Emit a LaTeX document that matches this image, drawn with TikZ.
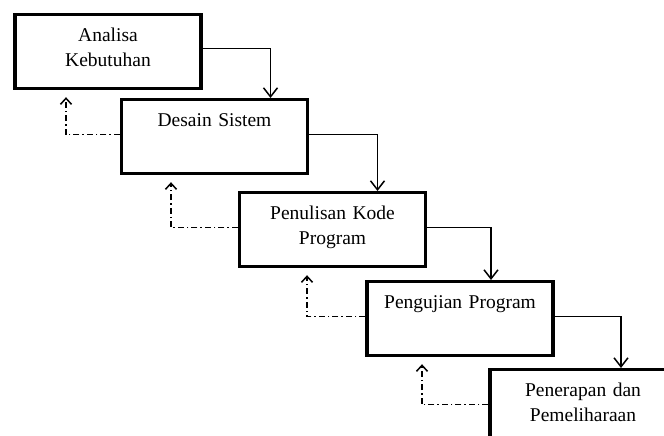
\documentclass[tikz,border=0pt]{standalone}
\usepackage{fontspec}
\setmainfont{Liberation Serif}
\usetikzlibrary{arrows.meta}

\begin{document}
\begin{tikzpicture}[x=1pt,y=-1pt,
    tahap/.style={draw, line width=3.2pt, anchor=north, inner xsep=0pt, inner ysep=0pt,
        text width=186pt, align=center, text height=27pt, text depth=47pt,
        font=\fontsize{19.5}{25}\selectfont},
    maju/.style={line width=1.5pt, -{Straight Barb[length=9pt,width=14pt]}},
    balik/.style={line width=1.5pt, dash pattern=on 6pt off 3pt on 1.5pt off 3pt,
        -{Straight Barb[length=6pt,width=11pt]}, shorten >=7pt}]
    \useasboundingbox (0,0) rectangle (664,436);
    \clip (0,0) rectangle (664,436);
    \node [tahap] (analisa) at (108,13) {Analisa\\Kebutuhan};
    \node [tahap] (desain) at (214.5,98) {Desain Sistem};
    \node [tahap] (kode) at (332.5,191) {Penulisan Kode\\Program};
    \node [tahap] (uji) at (460,280) {Pengujian Program};
    \node [tahap] (terap) at (583,368) {Penerapan dan\\Pemeliharaan};
    % alur maju
    \draw [maju] ([yshift=3pt]analisa.east) -| ([xshift=56pt]desain.north);
    \draw [maju] ([yshift=2pt]desain.east) -| ([xshift=45pt]kode.north);
    \draw [maju] ([yshift=2pt]kode.east) -| ([xshift=31pt]uji.north);
    \draw [maju] ([yshift=2pt]uji.east) -| ([xshift=38pt]terap.north);
    % alur balik
    \draw [balik] ([yshift=2pt]desain.west) -| ([xshift=-42pt]analisa.south);
    \draw [balik] ([yshift=2pt]kode.west) -| ([xshift=-43.5pt]desain.south);
    \draw [balik] ([yshift=2pt]uji.west) -| ([xshift=-25.5pt]kode.south);
    \draw [balik] ([yshift=2pt]terap.west) -| ([xshift=-38pt]uji.south);
\end{tikzpicture}
\end{document}
